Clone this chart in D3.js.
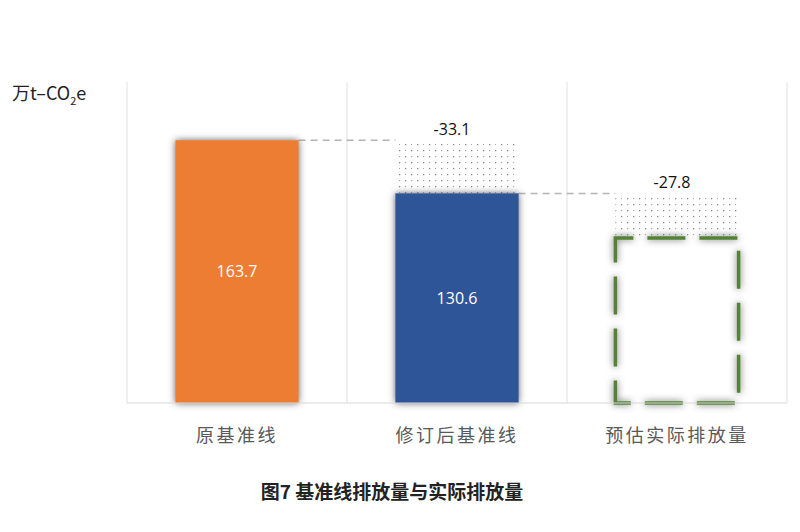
<!DOCTYPE html>
<html>
<head>
<meta charset="utf-8">
<script src="https://cdn.jsdelivr.net/npm/d3@7"></script>
<style>
  body { margin: 0; background: #fff; }
  svg { display: block; font-family: "Noto Sans CJK SC", "Noto Sans", sans-serif; }
</style>
</head>
<body>
<div id="chart"></div>
<script>
var categories = ['原基准线', '修订后基准线', '预估实际排放量'];
var values = [163.7, 130.6, 102.8];
var changes = [null, -33.1, -27.8];
var yUnit = '万t–CO';
var title = '图7 基准线排放量与实际排放量';

var sWidth = 800;
var sHeight = 532;

var marg = { top: 82, bottom: 129, left: 127, right: 13 };
var width = sWidth - marg.left - marg.right;
var height = sHeight - marg.top - marg.bottom;

var svg = d3.select('#chart')
    .append('svg')
    .attr('width', sWidth)
    .attr('height', sHeight);

var defs = svg.append('defs');

var shadow = defs.append('filter')
    .attr('id', 'shadow')
    .attr('x', '-20%').attr('y', '-10%')
    .attr('width', '140%').attr('height', '120%');
shadow.append('feDropShadow')
    .attr('dx', 0).attr('dy', 0)
    .attr('stdDeviation', 3.5)
    .attr('flood-color', '#444')
    .attr('flood-opacity', 0.85);

var dots = defs.append('pattern')
    .attr('id', 'dots')
    .attr('patternUnits', 'userSpaceOnUse')
    .attr('width', 12).attr('height', 12);
dots.append('rect').attr('width', 12).attr('height', 12).attr('fill', '#fff');
[[2, 2], [8, 8]].forEach(function(p) {
    dots.append('rect')
        .attr('x', p[0]).attr('y', p[1])
        .attr('width', 1.3).attr('height', 1.3)
        .attr('fill', '#8a8a8a');
});
[[8, 2], [2, 8]].forEach(function(p) {
    dots.append('rect')
        .attr('x', p[0]).attr('y', p[1])
        .attr('width', 1.1).attr('height', 1.1)
        .attr('fill', '#a8a8a8');
});

var g = svg.append('g')
    .attr('transform', `translate(${marg.left}, ${marg.top})`);

var x = d3.scaleBand()
    .domain(categories)
    .range([0, width])
    .paddingInner(0)
    .paddingOuter(0);

var y = d3.scaleLinear()
    .domain([0, 200])
    .range([height, 0]);

var bw = x.bandwidth() * 0.56;
var bx = d => x(d) + (x.bandwidth() - bw) / 2;

// vertical grid lines between categories
var edges = categories.map(d => x(d)).concat([width]);
g.selectAll('.grid')
    .data(edges)
    .enter()
    .append('line')
    .attr('x1', d => d).attr('x2', d => d)
    .attr('y1', 0).attr('y2', height)
    .attr('stroke', '#e0e0e0')
    .attr('stroke-width', 1);

// dotted reduction areas
g.selectAll('.reduce')
    .data(categories.slice(1))
    .enter()
    .append('rect')
    .attr('x', d => bx(d))
    .attr('width', bw)
    .attr('y', (d, i) => y(values[i]))
    .attr('height', (d, i) => y(values[i + 1]) - y(values[i]))
    .attr('fill', 'url(#dots)');

// connector dashed lines
g.selectAll('.connector')
    .data(categories.slice(1))
    .enter()
    .append('line')
    .attr('x1', (d, i) => bx(categories[i]) + bw)
    .attr('x2', d => bx(d))
    .attr('y1', (d, i) => y(values[i]))
    .attr('y2', (d, i) => y(values[i]))
    .attr('stroke', '#b4b4b4')
    .attr('stroke-width', 1.5)
    .attr('stroke-dasharray', '7,5');

// solid bars
var colors = ['#ed7d31', '#2f5597'];
g.selectAll('.bar')
    .data(categories.slice(0, 2))
    .enter()
    .append('rect')
    .attr('x', d => bx(d))
    .attr('width', bw)
    .attr('y', (d, i) => y(values[i]))
    .attr('height', (d, i) => height - y(values[i]))
    .attr('fill', (d, i) => colors[i])
    .attr('filter', 'url(#shadow)');

// dashed outline bar
var last = categories[2];
g.append('rect')
    .attr('x', bx(last))
    .attr('width', bw)
    .attr('y', y(values[2]))
    .attr('height', height - y(values[2]))
    .attr('fill', 'none')
    .attr('stroke', '#548235')
    .attr('stroke-width', 3.5)
    .attr('stroke-dasharray', '38,14')
    .attr('stroke-dashoffset', 20)
    .attr('filter', 'url(#shadow)');

// baseline
g.append('line')
    .attr('x1', 0).attr('x2', width)
    .attr('y1', height).attr('y2', height)
    .attr('stroke', '#d9d9d9')
    .attr('stroke-width', 1);

// value labels inside bars
g.selectAll('.val')
    .data(categories.slice(0, 2))
    .enter()
    .append('text')
    .attr('x', d => x(d) + x.bandwidth() / 2)
    .attr('y', (d, i) => (y(values[i]) + height) / 2)
    .attr('dy', '0.35em')
    .attr('text-anchor', 'middle')
    .attr('fill', '#fff')
    .style('font-family', '"Open Sans", sans-serif')
    .style('font-size', '16px')
    .text((d, i) => values[i].toFixed(1));

// change labels
g.selectAll('.chg')
    .data(categories.slice(1))
    .enter()
    .append('text')
    .attr('x', d => x(d) + x.bandwidth() / 2 - 5)
    .attr('y', (d, i) => y(values[i]) - 5)
    .attr('text-anchor', 'middle')
    .attr('fill', '#111')
    .style('font-family', '"Open Sans", sans-serif')
    .style('font-size', '16px')
    .text((d, i) => changes[i + 1].toFixed(1));

// category axis labels
var xAxis = g.append('g')
    .attr('transform', `translate(0, ${height})`)
    .call(d3.axisBottom(x).tickSize(0).tickPadding(26));
xAxis.select('.domain').remove();
xAxis.selectAll('text')
    .attr('fill', '#595959')
    .style('font-family', '"Noto Sans CJK SC", sans-serif')
    .style('font-size', '18px')
    .style('letter-spacing', '2.5px');

// unit label
var unit = svg.append('text')
    .attr('x', 12)
    .attr('y', 100)
    .attr('fill', '#222')
    .style('font-family', '"Noto Sans CJK SC", sans-serif')
    .style('font-size', '18px')
    .text(yUnit);
unit.append('tspan')
    .attr('dy', 5)
    .style('font-size', '11px')
    .text('2');
unit.append('tspan')
    .attr('dy', -5)
    .text('e');

// figure title
svg.append('text')
    .attr('x', 392)
    .attr('y', 499)
    .attr('text-anchor', 'middle')
    .attr('fill', '#222')
    .style('font-family', '"Noto Sans CJK SC", sans-serif')
    .style('font-size', '19px')
    .style('font-weight', 'bold')
    .text(title);
</script>
</body>
</html>
